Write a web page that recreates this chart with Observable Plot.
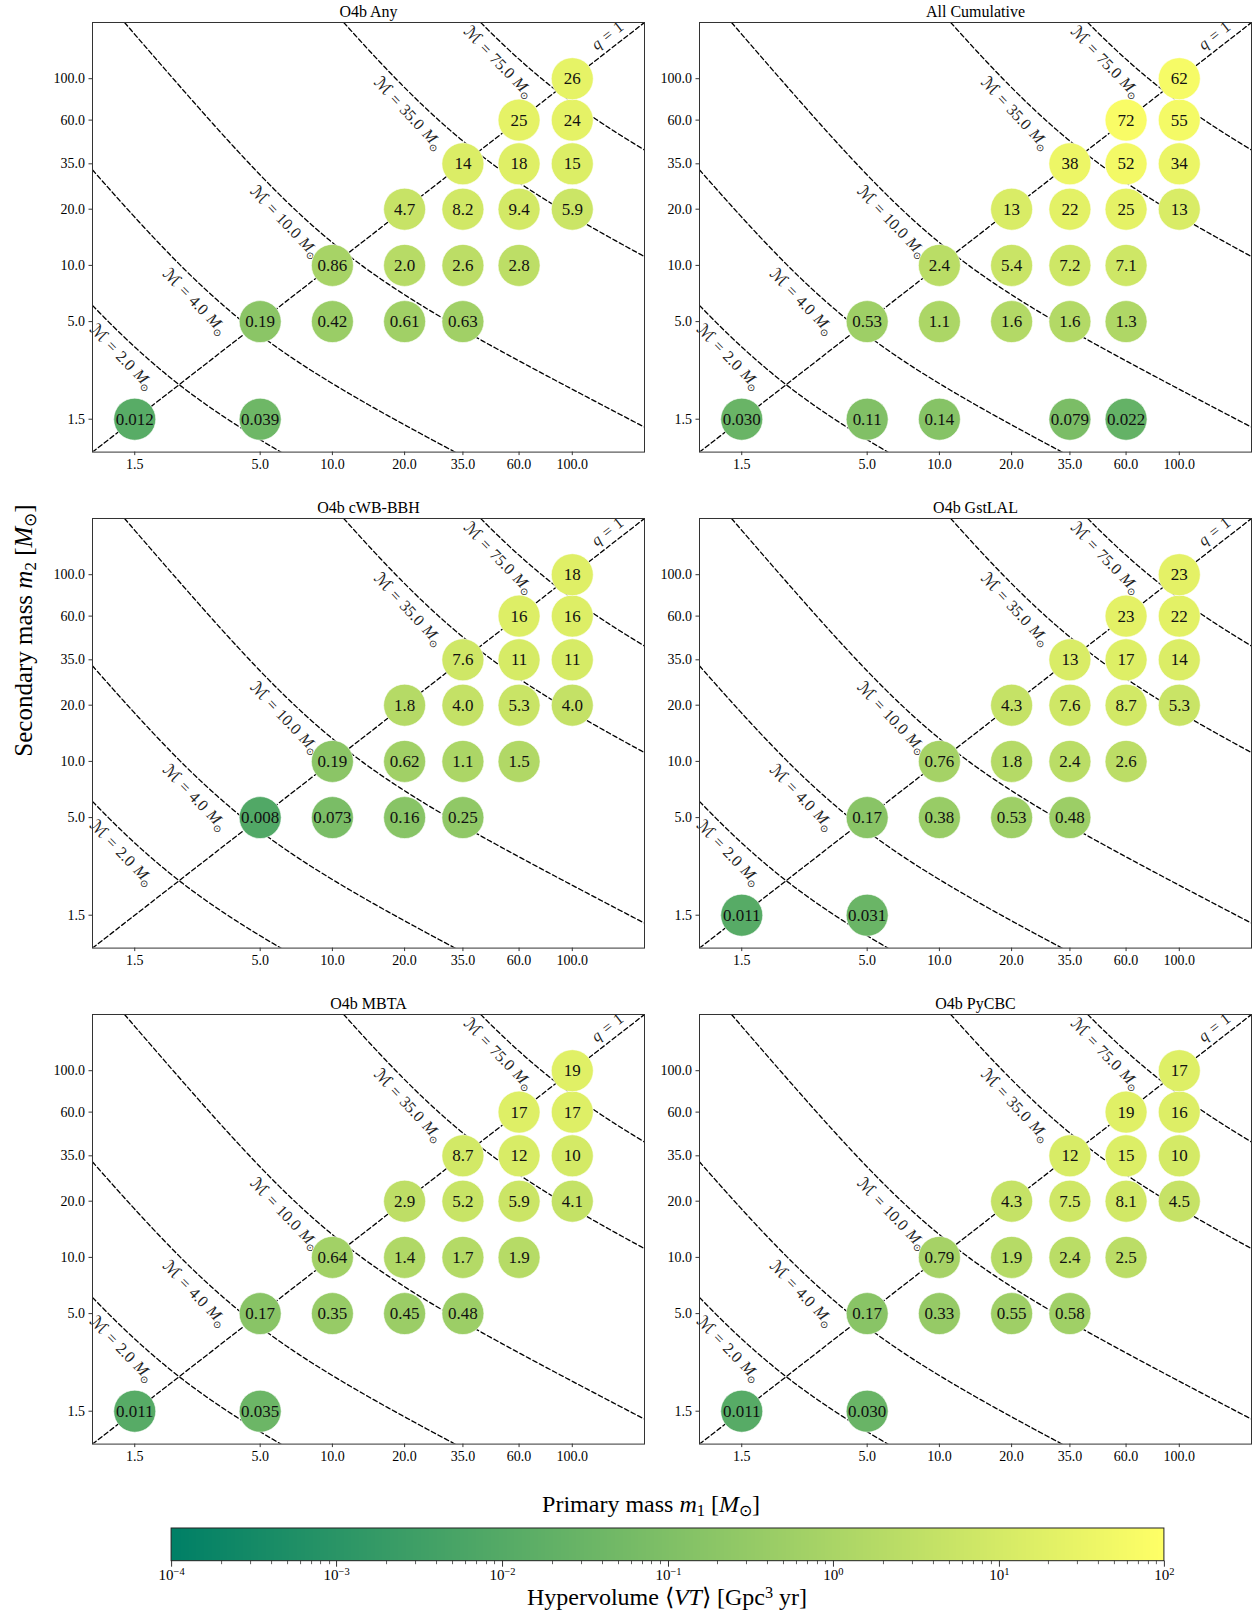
<!DOCTYPE html>
<html><head><meta charset="utf-8">
<script src="https://cdn.jsdelivr.net/npm/d3@7"></script>
<script src="https://cdn.jsdelivr.net/npm/@observablehq/plot@0.6"></script>
<style>
body{margin:0;background:#fff;}
#fig{position:relative;width:1258px;height:1617px;font-family:"Liberation Serif",serif;color:#000;overflow:hidden;}
.abs{position:absolute;}
.lab{position:absolute;white-space:nowrap;text-align:center;line-height:1;font-size:24px;}
.lab sub{font-size:68%;vertical-align:-0.25em;line-height:0;}
.lab sup{font-size:68%;vertical-align:0.45em;line-height:0;}
</style></head><body><div id="fig"></div>
<script>
// ---------------- data ----------------
const massDomain = [1, 200];
const massTicks = [1.5, 5, 10, 20, 35, 60, 100];
const chirpMasses = [2, 4, 10, 35, 75];
const chirpLabelM1 = [1.325, 2.67, 6.34, 20.7, 49.2];
const qLabelM = 140;
const panelTitles = ["O4b Any", "All Cumulative", "O4b cWB-BBH", "O4b GstLAL", "O4b MBTA", "O4b PyCBC"];
const colorbarExponents = [-4, -3, -2, -1, 0, 1, 2];

// [m1, m2, <VT> as printed]
const vtO4bAny = [
 [1.5,1.5,"0.012"],[5,1.5,"0.039"],
 [5,5,"0.19"],[10,5,"0.42"],[20,5,"0.61"],[35,5,"0.63"],
 [10,10,"0.86"],[20,10,"2.0"],[35,10,"2.6"],[60,10,"2.8"],
 [20,20,"4.7"],[35,20,"8.2"],[60,20,"9.4"],[100,20,"5.9"],
 [35,35,"14"],[60,35,"18"],[100,35,"15"],
 [60,60,"25"],[100,60,"24"],
 [100,100,"26"]
];
const vtAllCumulative = [
 [1.5,1.5,"0.030"],[5,1.5,"0.11"],[10,1.5,"0.14"],[35,1.5,"0.079"],[60,1.5,"0.022"],
 [5,5,"0.53"],[10,5,"1.1"],[20,5,"1.6"],[35,5,"1.6"],[60,5,"1.3"],
 [10,10,"2.4"],[20,10,"5.4"],[35,10,"7.2"],[60,10,"7.1"],
 [20,20,"13"],[35,20,"22"],[60,20,"25"],[100,20,"13"],
 [35,35,"38"],[60,35,"52"],[100,35,"34"],
 [60,60,"72"],[100,60,"55"],
 [100,100,"62"]
];
const vtO4bCWB = [
 [5,5,"0.008"],[10,5,"0.073"],[20,5,"0.16"],[35,5,"0.25"],
 [10,10,"0.19"],[20,10,"0.62"],[35,10,"1.1"],[60,10,"1.5"],
 [20,20,"1.8"],[35,20,"4.0"],[60,20,"5.3"],[100,20,"4.0"],
 [35,35,"7.6"],[60,35,"11"],[100,35,"11"],
 [60,60,"16"],[100,60,"16"],
 [100,100,"18"]
];
const vtO4bGstLAL = [
 [1.5,1.5,"0.011"],[5,1.5,"0.031"],
 [5,5,"0.17"],[10,5,"0.38"],[20,5,"0.53"],[35,5,"0.48"],
 [10,10,"0.76"],[20,10,"1.8"],[35,10,"2.4"],[60,10,"2.6"],
 [20,20,"4.3"],[35,20,"7.6"],[60,20,"8.7"],[100,20,"5.3"],
 [35,35,"13"],[60,35,"17"],[100,35,"14"],
 [60,60,"23"],[100,60,"22"],
 [100,100,"23"]
];
const vtO4bMBTA = [
 [1.5,1.5,"0.011"],[5,1.5,"0.035"],
 [5,5,"0.17"],[10,5,"0.35"],[20,5,"0.45"],[35,5,"0.48"],
 [10,10,"0.64"],[20,10,"1.4"],[35,10,"1.7"],[60,10,"1.9"],
 [20,20,"2.9"],[35,20,"5.2"],[60,20,"5.9"],[100,20,"4.1"],
 [35,35,"8.7"],[60,35,"12"],[100,35,"10"],
 [60,60,"17"],[100,60,"17"],
 [100,100,"19"]
];
const vtO4bPyCBC = [
 [1.5,1.5,"0.011"],[5,1.5,"0.030"],
 [5,5,"0.17"],[10,5,"0.33"],[20,5,"0.55"],[35,5,"0.58"],
 [10,10,"0.79"],[20,10,"1.9"],[35,10,"2.4"],[60,10,"2.5"],
 [20,20,"4.3"],[35,20,"7.5"],[60,20,"8.1"],[100,20,"4.5"],
 [35,35,"12"],[60,35,"15"],[100,35,"10"],
 [60,60,"19"],[100,60,"16"],
 [100,100,"17"]
];
const panelData = [vtO4bAny, vtAllCumulative, vtO4bCWB, vtO4bGstLAL, vtO4bMBTA, vtO4bPyCBC];

// ---------------- layout ----------------
const W = 552, H = 429.6;
const ML = 58, MR = 6, MT = 26, MB = 30;
const frameLefts = [91.7, 699.3];
const frameTops = [22.2, 518.3, 1014];
const kx = W / Math.log10(massDomain[1] / massDomain[0]);
const ky = H / Math.log10(massDomain[1] / massDomain[0]);
const FONT = "Liberation Serif";
const colorOpts = {type: "log", domain: [1e-4, 1e2], range: ["#008066", "#ffff66"], interpolate: "rgb"};
const dash = "4.6,2.8";

// chirp mass contours (analytic)
const chirp = (m1, m2) => Math.pow(m1 * m2, 0.6) / Math.pow(m1 + m2, 0.2);
function m2For(mc, m1) {
  let lo = -4, hi = 8;
  for (let i = 0; i < 90; i++) { const mid = (lo + hi) / 2; if (chirp(m1, 10 ** mid) < mc) lo = mid; else hi = mid; }
  return 10 ** ((lo + hi) / 2);
}
const curves = chirpMasses.flatMap(mc => {
  const a = Math.max(massDomain[0], m2For(mc, massDomain[1]));
  const b = Math.min(massDomain[1], m2For(mc, massDomain[0]));
  const la = Math.log10(a), lb = Math.log10(b), n = 300;
  return d3.range(n + 1).map(i => {
    const m1 = 10 ** (la + (lb - la) * i / n);
    return {mc, m1, m2: Math.min(massDomain[1], Math.max(massDomain[0], m2For(mc, m1)))};
  });
});
const diag = massDomain.map(m => ({m1: m, m2: m}));
const chirpLabels = chirpMasses.map((mc, i) => {
  const m1 = chirpLabelM1[i], m2 = m2For(mc, m1), M = m1 + m2;
  const s = -(0.6 - 0.2 * m1 / M) / (0.6 - 0.2 * m2 / M);
  return {m1, m2, angle: Math.atan(-s * ky / kx) * 180 / Math.PI + 2, text: `ℳ = ${mc.toFixed(1)} M⊙`};
});
const qLabel = [{m1: qLabelM, m2: qLabelM, angle: -Math.atan(ky / kx) * 180 / Math.PI, text: "q = 1"}];

const fig = document.getElementById("fig");
const tickText = d => d.toFixed(1);

panelData.forEach((rows, idx) => {
  const col = idx % 2, row = Math.floor(idx / 2);
  const svg = Plot.plot({
    width: ML + W + MR, height: MT + H + MB,
    marginLeft: ML, marginRight: MR, marginTop: MT, marginBottom: MB,
    x: {type: "log", domain: massDomain},
    y: {type: "log", domain: massDomain},
    color: colorOpts,
    style: {background: "transparent", fontFamily: FONT, fontSize: "14px", overflow: "visible", color: "#000"},
    marks: [
      Plot.line(curves, {x: "m1", y: "m2", z: "mc", stroke: "#000", strokeWidth: 1.3, strokeDasharray: dash, clip: true}),
      Plot.line(diag, {x: "m1", y: "m2", stroke: "#000", strokeWidth: 1.3, strokeDasharray: dash, clip: true}),
      Plot.text(chirpLabels, {x: "m1", y: "m2", text: "text", rotate: "angle", dy: 22, fontSize: 16, fill: "#222"}),
      Plot.text(qLabel, {x: "m1", y: "m2", text: "text", rotate: "angle", dy: -16, fontSize: 16, fill: "#222"}),
      Plot.dot(rows, {x: d => d[0], y: d => d[1], r: 21, fill: d => +d[2], stroke: "#fff", strokeWidth: 0.6}),
      Plot.text(rows, {x: d => d[0], y: d => d[1], text: d => d[2], fontSize: 17, fill: "#111"}),
      Plot.frame({stroke: "#333", strokeWidth: 1}),
      Plot.axisX({ticks: massTicks, text: tickText, tickSize: 3.5, tickPadding: 3, stroke: "#333", label: null, fontSize: 14}),
      Plot.axisY({ticks: massTicks, text: tickText, tickSize: 3.5, tickPadding: 4, stroke: "#333", label: null, fontSize: 14}),
      Plot.text([panelTitles[idx]], {frameAnchor: "top", dy: -5, lineAnchor: "bottom", fontSize: 16, fill: "#000"})
    ]
  });
  // mathematical typesetting of line labels
  svg.querySelectorAll("text").forEach(t => {
    const s = t.textContent;
    if (s.startsWith("ℳ")) {
      const num = s.split(" ")[2];
      t.innerHTML = '<tspan font-family="DejaVu Sans" font-size="105%">ℳ</tspan>\u2004=\u2004' + num +
        '\u2004<tspan font-style="italic">M</tspan><tspan font-size="62%" dy="0.35em">⊙</tspan>';
    } else if (s === "q = 1") {
      t.innerHTML = '<tspan font-style="italic">q</tspan>\u2004=\u20041';
    }
  });
  const wrap = document.createElement("div");
  wrap.className = "abs";
  wrap.style.left = (frameLefts[col] - ML) + "px";
  wrap.style.top = (frameTops[row] - MT) + "px";
  wrap.appendChild(svg);
  fig.appendChild(wrap);
});

// ---------------- colorbar ----------------
const cbLeft = 170.7, cbWidth = 993, cbTop = 1528.3, cbHeight = 32.7, cbM = 20;
const majors = colorbarExponents.map(e => 10 ** e);
const cbTicks = [];
colorbarExponents.forEach((e, i) => {
  cbTicks.push(10 ** e);
  if (i < colorbarExponents.length - 1) for (let k = 2; k <= 9; k++) cbTicks.push(k * 10 ** e);
});
const isMajor = v => majors.some(m => Math.abs(v / m - 1) < 1e-9);
const leg = Plot.legend({
  color: colorOpts,
  width: cbWidth + 2 * cbM, height: 2 + cbHeight + 30,
  marginLeft: cbM, marginRight: cbM, marginTop: 2, marginBottom: 30,
  ticks: cbTicks, tickFormat: d => isMajor(d) ? "M" + Math.round(Math.log10(d)) : "", tickSize: 6, label: null,
  style: {fontFamily: FONT, fontSize: "15px", background: "transparent", overflow: "visible", color: "#000"}
});
leg.querySelectorAll(".tick").forEach(tk => {
  const v = d3.select(tk).datum();
  const line = tk.querySelector("line");
  if (line) { line.setAttribute("y1", 0); line.setAttribute("y2", isMajor(v) ? 6 : 3.5); line.setAttribute("stroke", "#333"); line.setAttribute("stroke-width", isMajor(v) ? 1 : 0.8); }
  const txt = tk.querySelector("text");
  if (txt) {
    if (isMajor(v)) {
      const e = Math.round(Math.log10(v));
      txt.innerHTML = '10<tspan font-size="70%" dy="-0.5em">' + (e < 0 ? "−" + (-e) : e) + '</tspan>';
      txt.setAttribute("fill", "#000");
    } else txt.textContent = "";
  }
});
d3.select(leg).append("rect").attr("x", cbM).attr("y", 2).attr("width", cbWidth).attr("height", cbHeight)
  .attr("fill", "none").attr("stroke", "#222").attr("stroke-width", 1);
const lw = document.createElement("div");
lw.className = "abs";
lw.style.left = (cbLeft - cbM) + "px";
lw.style.top = (cbTop - 2) + "px";
lw.appendChild(leg);
fig.appendChild(lw);

// ---------------- axis titles ----------------
function addLabel(html, cx, cy, rotate, size) {
  const d = document.createElement("div");
  d.className = "lab";
  d.innerHTML = html;
  d.style.width = "400px";
  d.style.fontSize = size + "px";
  d.style.left = (cx - 200) + "px";
  d.style.top = (cy - size / 2) + "px";
  if (rotate) d.style.transform = "rotate(-90deg)";
  fig.appendChild(d);
}
addLabel('Primary mass <i>m</i><sub>1</sub> [<i>M</i><sub>⊙</sub>]', 651, 1504, false, 24);
addLabel('Secondary mass <i>m</i><sub>2</sub> [<i>M</i><sub>⊙</sub>]', 23, 630, true, 25);
addLabel('Hypervolume ⟨<i>VT</i>⟩ [Gpc<sup>3</sup> yr]', 667, 1597, false, 24);
</script></body></html>
